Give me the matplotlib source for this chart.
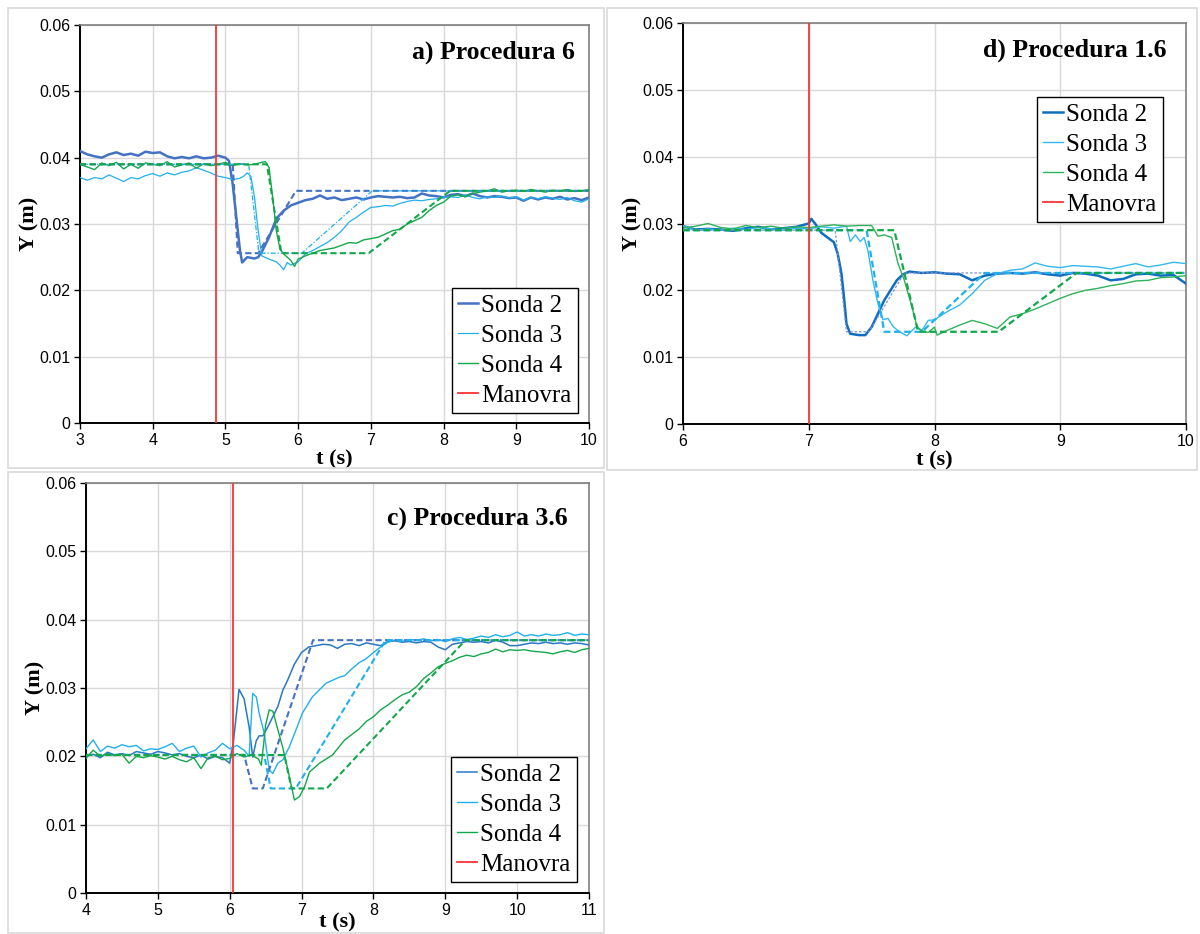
import numpy as np
import matplotlib
matplotlib.use("Agg")
import matplotlib.pyplot as plt
from matplotlib.patches import Rectangle


def grid(a, b, step=0.1):
    return list(np.round(np.arange(a, b + step / 2, step), 3))

# ---------------- Panel a) Procedura 6 ----------------
a_s2_t = grid(3.0, 5.0) + [5.05, 5.1, 5.15, 5.2, 5.23, 5.3, 5.4, 5.45, 5.5] + grid(5.6, 10.0)
a_s2_y = [0.0410, 0.0405, 0.0402, 0.0400, 0.0405, 0.0408, 0.0404, 0.0406, 0.0403, 0.0409, 0.0407,
          0.0408, 0.0402, 0.0399, 0.0401, 0.0399, 0.0402, 0.0399, 0.0400, 0.0403, 0.0400,
          0.0395, 0.0360, 0.0310, 0.0260, 0.0242, 0.0250, 0.0248, 0.0250, 0.0258,
          0.0280, 0.0308, 0.0320, 0.0328, 0.0332, 0.0336, 0.0338, 0.0343, 0.0338, 0.0340,
          0.0336, 0.0338, 0.0340, 0.0337, 0.0340, 0.0342, 0.0341, 0.0340, 0.0341, 0.0339,
          0.0340, 0.0346, 0.0343, 0.0342, 0.0340, 0.0344, 0.0345, 0.0342, 0.0346, 0.0342,
          0.0340, 0.0342, 0.0341, 0.0339, 0.0340, 0.0335, 0.0340, 0.0337, 0.0340, 0.0338,
          0.0341, 0.0337, 0.0339, 0.0336, 0.0340]
a_s3_t = grid(3.0, 5.2) + [5.25, 5.3, 5.35, 5.4, 5.45, 5.5] + [5.6, 5.7, 5.75, 5.8, 5.85, 5.9] + grid(6.0, 10.0)
a_s3_y = [0.0370, 0.0366, 0.0370, 0.0368, 0.0374, 0.0369, 0.0364, 0.0370, 0.0368, 0.0373, 0.0376,
          0.0372, 0.0377, 0.0374, 0.0378, 0.0380, 0.0385, 0.0381, 0.0377, 0.0372, 0.0370,
          0.0367, 0.0369,
          0.0372, 0.0377, 0.0372, 0.0340, 0.0290, 0.0252,
          0.0247, 0.0243, 0.0238, 0.0231, 0.0242, 0.0238,
          0.0243, 0.0255, 0.0260, 0.0266, 0.0272, 0.0280, 0.0290, 0.0303, 0.0310, 0.0318,
          0.0325, 0.0326, 0.0328, 0.0327, 0.0331, 0.0334, 0.0336, 0.0335, 0.0337, 0.0338,
          0.0340, 0.0341, 0.0340, 0.0344, 0.0340, 0.0338, 0.0341, 0.0340, 0.0342, 0.0339,
          0.0341, 0.0336, 0.0340, 0.0338, 0.0341, 0.0339, 0.0337, 0.0340, 0.0335, 0.0333,
          0.0338]
a_s4_t = grid(3.0, 5.5) + [5.55, 5.6, 5.65, 5.7, 5.75, 5.8, 5.85, 5.9, 5.95] + grid(6.0, 10.0)
a_s4_y = [0.0390, 0.0386, 0.0382, 0.0392, 0.0388, 0.0393, 0.0383, 0.0390, 0.0384, 0.0392, 0.0390,
          0.0388, 0.0394, 0.0386, 0.0389, 0.0392, 0.0384, 0.0391, 0.0388, 0.0390, 0.0393,
          0.0388, 0.0391, 0.0389, 0.0390, 0.0393,
          0.0394, 0.0385, 0.0340, 0.0290, 0.0262, 0.0255, 0.0250, 0.0245, 0.0236,
          0.0247, 0.0252, 0.0256, 0.0260, 0.0262, 0.0264, 0.0268, 0.0272, 0.0271, 0.0276,
          0.0278, 0.0280, 0.0285, 0.0290, 0.0292, 0.0300, 0.0305, 0.0310, 0.0320, 0.0328,
          0.0333, 0.0342, 0.0344, 0.0341, 0.0346, 0.0348, 0.0350, 0.0353, 0.0348, 0.0350,
          0.0351, 0.0349, 0.0352, 0.0350, 0.0348, 0.0351, 0.0350, 0.0352, 0.0349, 0.0350,
          0.0352]
a_d2_t = [3.0, 5.10, 5.17, 5.45, 5.97, 10.0]
a_d2_y = [0.0390, 0.0390, 0.0256, 0.0256, 0.0350, 0.0350]
a_d3_t = [3.0, 5.32, 5.46, 6.05, 7.02, 10.0]
a_d3_y = [0.0390, 0.0390, 0.0256, 0.0256, 0.0350, 0.0350]
a_d4_t = [3.0, 5.57, 5.77, 6.97, 8.09, 10.0]
a_d4_y = [0.0390, 0.0390, 0.0256, 0.0256, 0.0350, 0.0350]
a_manovra = 4.87

# ---------------- Panel d) Procedura 1.6 ----------------
d_s2_t = grid(6.0, 7.0) + [7.02, 7.05, 7.1, 7.15, 7.2, 7.23, 7.26, 7.28, 7.3, 7.33, 7.4, 7.45,
                           7.5, 7.55, 7.6, 7.65, 7.7, 7.75, 7.8] + grid(7.9, 10.0)
d_s2_y = [0.0296, 0.0291, 0.0292, 0.0291, 0.0289, 0.0293, 0.0295, 0.0291, 0.0293, 0.0295, 0.0300,
          0.0307, 0.0300, 0.0286, 0.0279, 0.0272, 0.0255, 0.0225, 0.0190, 0.0150, 0.0135,
          0.0133, 0.0133, 0.0145, 0.0165, 0.0185, 0.0200, 0.0215, 0.0224, 0.0228,
          0.0226, 0.0227, 0.0225, 0.0224, 0.0215, 0.0222, 0.0225, 0.0226, 0.0225, 0.0227,
          0.0224, 0.0222, 0.0226, 0.0225, 0.0222, 0.0215, 0.0217, 0.0224, 0.0225, 0.0222,
          0.0223, 0.0210]
d_s3_t = grid(6.0, 7.3) + [7.33, 7.37, 7.41, 7.44, 7.47, 7.51, 7.55, 7.59, 7.63, 7.67, 7.72,
                           7.78, 7.85, 7.9, 7.95] + grid(8.0, 10.0)
d_s3_y = [0.0297, 0.0290, 0.0292, 0.0290, 0.0293, 0.0291, 0.0294, 0.0292, 0.0290, 0.0293, 0.0292,
          0.0295, 0.0293, 0.0296,
          0.0273, 0.0283, 0.0273, 0.0279, 0.0260, 0.0215, 0.0180, 0.0156, 0.0158, 0.0146,
          0.0138, 0.0132, 0.0145, 0.0140, 0.0155,
          0.0156, 0.0168, 0.0178, 0.0195, 0.0215, 0.0225, 0.0230, 0.0232, 0.0241, 0.0236,
          0.0234, 0.0237, 0.0236, 0.0235, 0.0232, 0.0236, 0.0240, 0.0235, 0.0238, 0.0242,
          0.0240]
d_s4_t = grid(6.0, 7.5) + [7.55, 7.6, 7.66, 7.71, 7.76, 7.82, 7.86, 7.9, 7.95, 8.0, 8.02] + grid(8.1, 10.0)
d_s4_y = [0.0293, 0.0296, 0.0300, 0.0294, 0.0292, 0.0297, 0.0294, 0.0296, 0.0293, 0.0295, 0.0294,
          0.0296, 0.0298, 0.0296, 0.0297, 0.0297,
          0.0281, 0.0283, 0.0279, 0.0240, 0.0215, 0.0176, 0.0146, 0.0139, 0.0137, 0.0145, 0.0133,
          0.0140, 0.0148, 0.0155, 0.0150, 0.0143, 0.0160, 0.0165, 0.0172, 0.0180, 0.0188,
          0.0195, 0.0200, 0.0203, 0.0207, 0.0210, 0.0214, 0.0215, 0.0219, 0.0220, 0.0222]
d_d2_t = [6.0, 7.21, 7.30, 7.48, 7.76, 10.0]
d_d2_y = [0.0290, 0.0290, 0.0138, 0.0138, 0.0226, 0.0226]
d_d3_t = [6.0, 7.46, 7.60, 7.90, 8.40, 10.0]
d_d3_y = [0.0290, 0.0290, 0.0138, 0.0138, 0.0226, 0.0226]
d_d4_t = [6.0, 7.68, 7.87, 8.51, 9.13, 10.0]
d_d4_y = [0.0290, 0.0290, 0.0138, 0.0138, 0.0226, 0.0226]
d_manovra = 7.0

# ---------------- Panel c) Procedura 3.6 ----------------
c_s2_t = grid(4.0, 6.0) + [6.05, 6.13, 6.2, 6.27, 6.32, 6.37, 6.41, 6.46, 6.53, 6.6, 6.67, 6.74,
                           6.8, 6.9, 7.0] + grid(7.1, 11.0)
c_s2_y = [0.0200, 0.0203, 0.0198, 0.0206, 0.0202, 0.0204, 0.0201, 0.0207, 0.0205, 0.0203, 0.0207,
          0.0205, 0.0202, 0.0204, 0.0200, 0.0198, 0.0202, 0.0196, 0.0200, 0.0198, 0.0190,
          0.0220, 0.0298, 0.0284, 0.0243, 0.0199, 0.0223, 0.0230, 0.0230, 0.0243, 0.0258,
          0.0273, 0.0297, 0.0310, 0.0335, 0.0352,
          0.0360, 0.0362, 0.0364, 0.0363, 0.0358, 0.0364, 0.0365, 0.0362, 0.0366, 0.0364,
          0.0362, 0.0368, 0.0369, 0.0367, 0.0368, 0.0366, 0.0368, 0.0367, 0.0360, 0.0356,
          0.0364, 0.0366, 0.0368, 0.0367, 0.0368, 0.0366, 0.0370, 0.0367, 0.0362, 0.0362,
          0.0364, 0.0366, 0.0365, 0.0367, 0.0365, 0.0366, 0.0364, 0.0366, 0.0365, 0.0363]
c_s3_t = grid(4.0, 6.2) + [6.27, 6.32, 6.37, 6.41, 6.48, 6.55, 6.6, 6.67, 6.74, 6.83, 6.92, 7.01,
                           7.15, 7.34, 7.53] + grid(7.6, 11.0)
c_s3_y = [0.0211, 0.0224, 0.0207, 0.0215, 0.0212, 0.0217, 0.0214, 0.0216, 0.0208, 0.0211, 0.0210,
          0.0214, 0.0219, 0.0207, 0.0212, 0.0215, 0.0199, 0.0205, 0.0209, 0.0219, 0.0211,
          0.0216, 0.0209,
          0.0200, 0.0292, 0.0287, 0.0263, 0.0234, 0.0180, 0.0175, 0.0190, 0.0195, 0.0214,
          0.0238, 0.0263, 0.0287, 0.0307, 0.0316,
          0.0318, 0.0328, 0.0337, 0.0343, 0.0352, 0.0360, 0.0367, 0.0370, 0.0368, 0.0371,
          0.0370, 0.0372, 0.0369, 0.0371, 0.0368, 0.0372, 0.0374, 0.0371, 0.0373, 0.0376,
          0.0374, 0.0378, 0.0375, 0.0377, 0.0382, 0.0376, 0.0378, 0.0376, 0.0379, 0.0377,
          0.0378, 0.0381, 0.0377, 0.0379, 0.0378]
c_s4_t = grid(4.0, 6.4) + [6.44, 6.5, 6.55, 6.6, 6.67, 6.74, 6.81, 6.88, 6.9, 6.97, 7.04, 7.11,
                           7.25, 7.43] + grid(7.6, 11.0)
c_s4_y = [0.0197, 0.0209, 0.0200, 0.0204, 0.0201, 0.0203, 0.0190, 0.0200, 0.0198, 0.0201, 0.0199,
          0.0196, 0.0200, 0.0195, 0.0192, 0.0198, 0.0182, 0.0198, 0.0200, 0.0195, 0.0197,
          0.0204, 0.0199, 0.0202, 0.0196,
          0.0187, 0.0246, 0.0268, 0.0266, 0.0239, 0.0212, 0.0180, 0.0146, 0.0136, 0.0141,
          0.0155, 0.0177, 0.0190, 0.0202,
          0.0224, 0.0232, 0.0240, 0.0251, 0.0258, 0.0268, 0.0275, 0.0283, 0.0290, 0.0294,
          0.0302, 0.0314, 0.0322, 0.0331, 0.0336, 0.0340, 0.0345, 0.0348, 0.0346, 0.0350,
          0.0352, 0.0357, 0.0353, 0.0356, 0.0355, 0.0356, 0.0354, 0.0353, 0.0352, 0.0350,
          0.0353, 0.0355, 0.0352, 0.0356, 0.0358]
c_d2_t = [4.0, 6.20, 6.32, 6.46, 7.16, 11.0]
c_d2_y = [0.0202, 0.0202, 0.0153, 0.0153, 0.0370, 0.0370]
c_d3_t = [4.0, 6.48, 6.57, 6.92, 8.17, 11.0]
c_d3_y = [0.0202, 0.0202, 0.0153, 0.0153, 0.0370, 0.0370]
c_d4_t = [4.0, 6.76, 6.86, 7.35, 9.28, 11.0]
c_d4_y = [0.0202, 0.0202, 0.0153, 0.0153, 0.0370, 0.0370]
c_manovra = 6.04

labels = ["Sonda 2", "Sonda 3", "Sonda 4", "Manovra"]
y_ticks = [0, 0.01, 0.02, 0.03, 0.04, 0.05, 0.06]
y_tick_labels = ["0", "0.01", "0.02", "0.03", "0.04", "0.05", "0.06"]

W, H = 1200, 934
fig = plt.figure(figsize=(W / 100, H / 100), dpi=100)
fig.patch.set_facecolor("white")

# chart-area frames
for (x0, y0, x1, y1) in [(8, 8, 604, 468), (607, 8, 1197, 470), (8, 472, 604, 933)]:
    fig.patches.append(Rectangle((x0 / W, 1 - y1 / H), (x1 - x0) / W, (y1 - y0) / H,
                                 transform=fig.transFigure, fill=False,
                                 edgecolor="#D9D9D9", lw=1.2))

SERIF = ["Liberation Serif", "DejaVu Serif"]
SANS = ["Liberation Sans", "DejaVu Sans"]


def make_panel(px_box, xlim, solids, dashes, colors, widths, dash_colors, dash_styles,
               manovra, title, title_xy, leg_anchor, xpad):
    l, t, r, b = px_box
    ax = fig.add_axes([l / W, 1 - b / H, (r - l) / W, (b - t) / H])
    ax.set_xlim(*xlim)
    ax.set_ylim(0, 0.06)
    ax.set_xticks(list(range(xlim[0], xlim[1] + 1)))
    ax.set_yticks(y_ticks)
    ax.set_yticklabels(y_tick_labels)
    ax.grid(True, color="#D9D9D9", lw=1.0)
    ax.set_axisbelow(True)
    for (tt, yy), c, w, lab in zip(solids, colors, widths, labels[:3]):
        ax.plot(tt, yy, color=c, lw=w, label=lab, zorder=3)
    for (tt, yy), c, (ls, lw) in zip(dashes, dash_colors, dash_styles):
        ax.plot(tt, yy, color=c, lw=lw, linestyle=ls, zorder=4)
    ax.axvline(manovra, color="#FF3333", lw=1.3, label=labels[3], zorder=5)
    for s in ["left", "bottom"]:
        ax.spines[s].set_color("black")
        ax.spines[s].set_linewidth(1.4)
    for s in ["top", "right"]:
        ax.spines[s].set_color("#7F7F7F")
        ax.spines[s].set_linewidth(1.2)
    ax.tick_params(axis="both", direction="out", length=4, width=1, color="black",
                   labelsize=11.5, pad=3)
    for lab in ax.get_xticklabels() + ax.get_yticklabels():
        lab.set_family(SANS)
    ax.set_xlabel("t (s)", family=SERIF, fontweight="bold", fontsize=16, labelpad=xpad)
    ax.set_ylabel("Y (m)", family=SERIF, fontweight="bold", fontsize=16, labelpad=0)
    ax.text(title_xy[0], title_xy[1], title, transform=ax.transAxes, ha="right", va="center",
            family=SERIF, fontweight="bold", fontsize=18.5)
    leg = ax.legend(loc="lower right", bbox_to_anchor=leg_anchor, borderaxespad=0,
                    prop={"family": SERIF, "size": 18}, handlelength=0.8,
                    handletextpad=0.12, labelspacing=0.3, borderpad=0.25,
                    fancybox=False, framealpha=1, edgecolor="black")
    leg.get_frame().set_linewidth(1.0)
    return ax

short = (0, (3, 1.6))

make_panel((80, 25, 589, 423), (3, 10),
           [(a_s2_t, a_s2_y), (a_s3_t, a_s3_y), (a_s4_t, a_s4_y)],
           [(a_d2_t, a_d2_y), (a_d3_t, a_d3_y), (a_d4_t, a_d4_y)],
           ["#4472C4", "#1FB0EE", "#12A84A"], [1.8, 0.9, 1.0],
           ["#4472C4", "#1FB0EE", "#12A84A"],
           [(short, 1.5), ((0, (4, 1.5, 1, 1.5)), 0.9), (short, 1.5)],
           a_manovra, "a) Procedura 6", (0.972, 0.932), (0.978, 0.025), 1)

make_panel((683, 23, 1186, 424), (6, 10),
           [(d_s2_t, d_s2_y), (d_s3_t, d_s3_y), (d_s4_t, d_s4_y)],
           [(d_d2_t, d_d2_y), (d_d3_t, d_d3_y), (d_d4_t, d_d4_y)],
           ["#0E6EC0", "#33B9F2", "#2DB35A"], [1.8, 1.0, 1.0],
           ["#7F8FD0", "#1FB0EE", "#12A84A"],
           [((0, (2, 1.5)), 0.9), (short, 1.6), (short, 1.6)],
           d_manovra, "d) Procedura 1.6", (0.962, 0.933), (0.954, 0.504), 1)

make_panel((86, 483, 589, 893), (4, 11),
           [(c_s2_t, c_s2_y), (c_s3_t, c_s3_y), (c_s4_t, c_s4_y)],
           [(c_d2_t, c_d2_y), (c_d3_t, c_d3_y), (c_d4_t, c_d4_y)],
           ["#2A78C2", "#1FB0EE", "#12A84A"], [1.1, 1.0, 1.0],
           ["#4472C4", "#1FB0EE", "#12A84A"],
           [(short, 1.5), (short, 1.5), (short, 1.5)],
           c_manovra, "c) Procedura 3.6", (0.958, 0.915), (0.976, 0.027), -3.5)

fig.savefig("out.png", dpi=100, facecolor="white")
